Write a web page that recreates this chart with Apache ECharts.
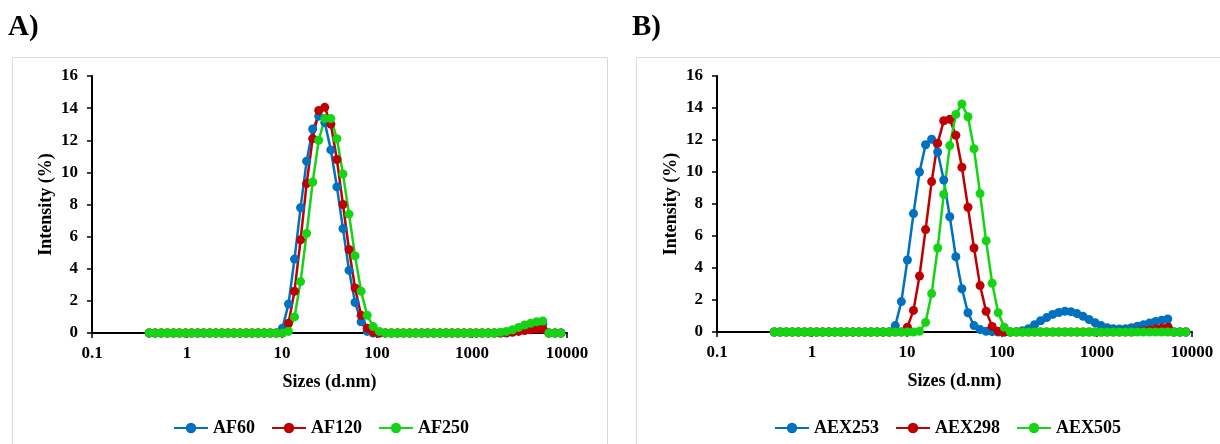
<!DOCTYPE html>
<html><head><meta charset="utf-8">
<script src="https://cdn.jsdelivr.net/npm/echarts@6/dist/echarts.min.js"></script>
<style>html,body{margin:0;padding:0;background:#fff}#c{width:1220px;height:444px}</style>
</head><body><div id="c"></div>
<script>
// Size bins (d.nm)
const sizes = [0.4,0.4632,0.5365,0.6213,0.7195,0.8332,0.9649,1.117,1.294,1.499,
  1.736,2.01,2.328,2.696,3.122,3.615,4.187,4.849,5.615,6.503,
  7.531,8.721,10.1,11.7,13.54,15.69,18.17,21.04,24.36,28.21,
  32.67,37.84,43.82,50.75,58.77,68.06,78.82,91.28,105.7,122.4,
  141.8,164.2,190.1,220.2,255,295.3,342,396.1,458.7,531.2,
  615.1,712.4,825,955.4,1106,1281,1484,1718,1990,2305,
  2669,3091,3580,4145,4801,5560,6439,7456,8635];

// Panel A
const AF60 = [0,0,0,0,0,0,0,0,0,0, 0,0,0,0,0,0,0,0,0,0, 0,0,
  0.3,1.8,4.6,7.8,10.7,12.7,13.5,13.1,11.4,9.1,6.5,3.9,1.9,0.7,0.1,
  0,0,0,0,0,0,0,0,0,0, 0,0,0,0,0,0,0,0,0,0, 0,0,0,
  0.1,0.2,0.3,0.4,0.5,0.55,
  0,0,0];
const AF120 = [0,0,0,0,0,0,0,0,0,0, 0,0,0,0,0,0,0,0,0,0, 0,0,0,
  0.6,2.6,5.8,9.3,12.1,13.85,14.05,13.0,10.8,8.0,5.2,2.8,1.1,0.3,0.05,
  0,0,0,0,0,0,0,0,0,0, 0,0,0,0,0,0,0,0,0,0, 0,
  0.02,0.05,0.1,0.15,0.2,0.25,0.25,
  0,0,0];
const AF250 = [0,0,0,0,0,0,0,0,0,0, 0,0,0,0,0,0,0,0,0,0, 0,0,0,
  0.1,1.0,3.2,6.2,9.4,12.0,13.35,13.35,12.1,9.9,7.4,4.8,2.6,1.1,0.4,0.1,
  0,0,0,0,0,0,0,0,0,0, 0,0,0,0,0,0,0,0,0,
  0.05,0.1,0.2,0.35,0.5,0.6,0.7,0.75,
  0,0,0];

// Panel B
const AEX253 = [0,0,0,0,0,0,0,0,0,0, 0,0,0,0,0,0,0,0,0,0,
  0.4,1.9,4.5,7.4,10.0,11.7,12.05,11.25,9.5,7.2,4.7,2.7,1.2,0.4,0.15,0.05,0.02,
  0,0,0,
  0.02,0.08,0.2,0.45,0.7,0.9,1.1,1.22,1.3,1.27,1.15,0.98,0.78,0.58,0.4,0.27,0.2,0.18,0.2,0.27,0.36,0.46,0.57,0.66,0.74,0.82,
  0,0,0];
const AEX298 = [0,0,0,0,0,0,0,0,0,0, 0,0,0,0,0,0,0,0,0,0, 0,0,
  0.3,1.35,3.5,6.4,9.4,11.8,13.2,13.3,12.3,10.3,7.8,5.25,2.9,1.3,0.35,0.05,
  0,0,0,0,0,0,0,0,0,0, 0,0,0,0,0,0,0,0,0,0, 0,0,
  0.03,0.07,0.12,0.18,0.24,0.3,
  0,0,0];
const AEX505 = [0,0,0,0,0,0,0,0,0,0, 0,0,0,0,0,0,0,0,0,0, 0,0,0,0,
  0.05,0.6,2.4,5.25,8.6,11.65,13.6,14.25,13.45,11.45,8.65,5.7,3.05,1.2,0.3,
  0,0,0,0,0,0,0,0,0,0, 0,0,0,0,0,0,0,0,0,0, 0,0,0,0,0,0,0,0,0,0];

const xTickLabels = ['0.1','1','10','100','1000','10000'];
const panelLabels = ['A)','B)'];
const namesA = ['AF60','AF120','AF250'];
const namesB = ['AEX253','AEX298','AEX505'];

const FONT = '"Liberation Serif", "Times New Roman", serif';
const COLORS = ['#0070C0','#C00000','#14D414'];
const pair = ys => sizes.map((s, i) => [s, ys[i]]);
const txt = (size) => ({fontFamily: FONT, fontWeight: 'bold', fontSize: size, color: '#000'});

function mkX(gi) {
  return {
    type: 'log', logBase: 10, min: 0.1, max: 10000, gridIndex: gi,
    name: 'Sizes (d.nm)', nameLocation: 'middle', nameGap: 40,
    nameTextStyle: txt(18),
    axisLine: {show: true, onZero: false, lineStyle: {color: '#000', width: 2}},
    axisTick: {show: true, length: 5, lineStyle: {color: '#000', width: 1.5}},
    minorTick: {show: false}, splitLine: {show: false}, minorSplitLine: {show: false},
    axisLabel: Object.assign(txt(17), {margin: 12,
      formatter: v => xTickLabels[Math.round(Math.log10(v)) + 1]})
  };
}
function mkY(gi) {
  return {
    type: 'value', min: 0, max: 16, interval: 2, gridIndex: gi,
    name: 'Intensity (%)', nameLocation: 'middle', nameGap: 37, nameRotate: 90,
    nameTextStyle: txt(18),
    axisLine: {show: true, lineStyle: {color: '#000', width: 2}},
    axisTick: {show: true, length: 5, lineStyle: {color: '#000', width: 1.5}},
    splitLine: {show: false},
    axisLabel: Object.assign(txt(17), {margin: 14})
  };
}
function mkS(name, ys, ci, gi) {
  return {
    name, type: 'line', xAxisIndex: gi, yAxisIndex: gi, data: pair(ys),
    symbol: 'circle', symbolSize: 9, clip: false,
    lineStyle: {color: COLORS[ci], width: 2.5},
    itemStyle: {color: COLORS[ci]},
    emphasis: {disabled: true}
  };
}
const legendBase = {
  top: 414, itemWidth: 34, itemHeight: 13, itemGap: 16, orient: 'horizontal',
  textStyle: txt(18)
};

const chart = echarts.init(document.getElementById('c'), null, {renderer: 'canvas'});
chart.setOption({
  animation: false,
  backgroundColor: '#fff',
  grid: [
    {left: 92, top: 76, width: 475, height: 257},
    {left: 717, top: 76, width: 475, height: 256}
  ],
  xAxis: [mkX(0), mkX(1)],
  yAxis: [mkY(0), mkY(1)],
  legend: [
    Object.assign({}, legendBase, {left: 168, data: namesA}),
    Object.assign({}, legendBase, {left: 769, data: namesB})
  ],
  series: [
    mkS(namesA[0], AF60, 0, 0), mkS(namesA[1], AF120, 1, 0), mkS(namesA[2], AF250, 2, 0),
    mkS(namesB[0], AEX253, 0, 1), mkS(namesB[1], AEX298, 1, 1), mkS(namesB[2], AEX505, 2, 1)
  ],
  graphic: [
    {type: 'rect', z: -1, shape: {x: 12.5, y: 57.5, width: 595, height: 420},
     style: {fill: 'none', stroke: '#d9d9d9', lineWidth: 1}},
    {type: 'rect', z: -1, shape: {x: 636.5, y: 57.5, width: 620, height: 420},
     style: {fill: 'none', stroke: '#d9d9d9', lineWidth: 1}},
    {type: 'text', left: 8, top: 13, style: Object.assign(txt(29), {text: panelLabels[0]})},
    {type: 'text', left: 632, top: 13, style: Object.assign(txt(29), {text: panelLabels[1]})}
  ]
});
</script></body></html>
